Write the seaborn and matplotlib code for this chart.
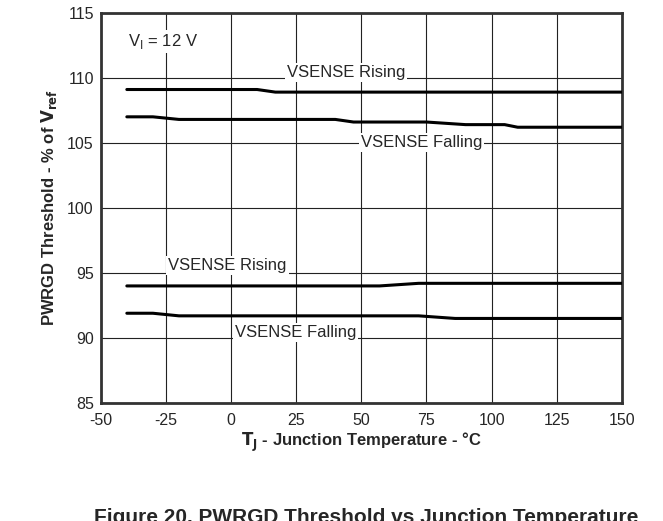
import numpy as np
import pandas as pd
import seaborn as sns
import matplotlib.pyplot as plt

sns.set_style('white')
plt.rcParams['font.family'] = ['Liberation Sans', 'DejaVu Sans']

# Junction temperature (°C) and PWRGD thresholds (% of Vref)
temp_hi_rise = [-40, 10, 17, 150]
hi_rise = [109.1, 109.1, 108.9, 108.9]

temp_hi_fall = [-40, -30, -20, 40, 47, 75, 90, 105, 110, 150]
hi_fall = [107.0, 107.0, 106.8, 106.8, 106.6, 106.6, 106.4, 106.4, 106.2, 106.2]

temp_lo_rise = [-40, 57, 72, 150]
lo_rise = [94.0, 94.0, 94.2, 94.2]

temp_lo_fall = [-40, -30, -20, 72, 86, 150]
lo_fall = [91.9, 91.9, 91.7, 91.7, 91.5, 91.5]

x_ticks = [-50, -25, 0, 25, 50, 75, 100, 125, 150]
y_ticks = [85, 90, 95, 100, 105, 110, 115]

fig = plt.figure(figsize=(6.63, 5.21), dpi=100)
ax = fig.add_axes([0.152, 0.2265, 0.786, 0.749])

series = [(temp_hi_rise, hi_rise), (temp_hi_fall, hi_fall),
          (temp_lo_rise, lo_rise), (temp_lo_fall, lo_fall)]
for tx, vals in series:
    df = pd.DataFrame({'T': tx, 'V': vals})
    sns.lineplot(data=df, x='T', y='V', ax=ax, color='black', linewidth=2.2, zorder=3)

ax.set_xlim(-50, 150)
ax.set_ylim(85, 115)
ax.set_xticks(x_ticks)
ax.set_yticks(y_ticks)
ax.set_xticklabels([str(t) for t in x_ticks], fontsize=11.5)
ax.set_yticklabels([str(t) for t in y_ticks], fontsize=11.5)
ax.tick_params(axis='x', length=0, pad=7)
ax.tick_params(axis='y', length=0, pad=5)
ax.grid(True, color='#222222', linewidth=0.8)
for s in ax.spines.values():
    s.set_color('#333333')
    s.set_linewidth(2)

ax.set_xlabel(r'$\mathbf{T_J}$ - Junction Temperature - °C', fontsize=12, fontweight='bold', labelpad=2)
ax.set_ylabel(r'PWRGD Threshold - % of $\mathbf{V_{ref}}$', fontsize=12, fontweight='bold', labelpad=6)

box = dict(facecolor='white', edgecolor='none', pad=1.5)
ax.text(-39.6, 112.8, r'V$_\mathregular{I}$ = 12 V', fontsize=12, va='center', ha='left', bbox=box, zorder=4)
ax.text(44, 110.4, 'VSENSE Rising', fontsize=12, va='center', ha='center', bbox=box, zorder=4)
ax.text(73, 105.0, 'VSENSE Falling', fontsize=12, va='center', ha='center', bbox=box, zorder=4)
ax.text(-1.4, 95.6, 'VSENSE Rising', fontsize=12, va='center', ha='center', bbox=box, zorder=4)
ax.text(24.8, 90.4, 'VSENSE Falling', fontsize=12, va='center', ha='center', bbox=box, zorder=4)

fig.text(0.552, 0.025, 'Figure 20. PWRGD Threshold vs Junction Temperature',
         fontsize=15, fontweight='bold', ha='center', va='top')

fig.savefig('out.png', dpi=100)
